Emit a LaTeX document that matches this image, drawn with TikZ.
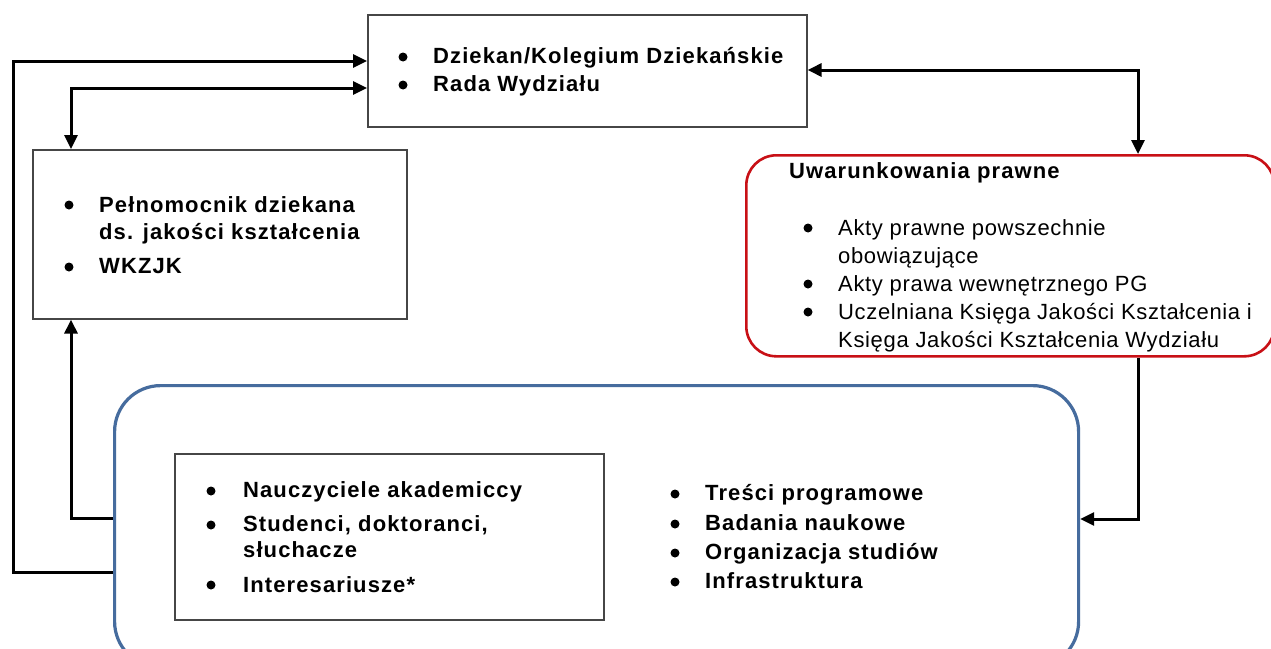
\documentclass[tikz,border=0pt]{standalone}
\usepackage{fontspec}
\setmainfont{Liberation Sans}[LetterSpace=5]
\newfontfamily\regfont{Liberation Sans}[LetterSpace=3]
\usetikzlibrary{arrows.meta}
\definecolor{redb}{RGB}{200,16,22}
\definecolor{blueb}{RGB}{70,108,158}
\definecolor{grayb}{RGB}{70,70,70}
\tikzset{
  x=1pt, y=-1pt,
  box/.style={draw=grayb, line width=1.6pt, rectangle, anchor=north west, inner sep=0pt},
  redbox/.style={draw=redb, line width=2.6pt, rectangle, rounded corners=30pt, anchor=north west, inner sep=0pt},
  bluebox/.style={draw=blueb, line width=3.2pt, rectangle, rounded corners=46pt, anchor=north west, inner sep=0pt},
  txt/.style={anchor=base west, inner sep=0pt, font=\fontsize{22}{26}\selectfont\bfseries},
  txtn/.style={anchor=base west, inner sep=0pt, font=\regfont\fontsize{22}{26}\selectfont},
  bul/.style={circle, fill=black, minimum size=9pt, inner sep=0pt},
  conn/.style={line width=3pt, -{Triangle[length=14pt,width=13pt]}},
  conn2/.style={line width=3pt, {Triangle[length=14pt,width=13pt]}-{Triangle[length=14pt,width=13pt]}},
}
\begin{document}
\begin{tikzpicture}
\useasboundingbox (0,0) rectangle (1271,648);
\clip (0,0) rectangle (1271,648);
\fill[white] (0,0) rectangle (1271,648);

% boxes
\node[box, minimum width=439pt, minimum height=112pt] (top) at (367,14) {};
\node[box, minimum width=374pt, minimum height=169pt] (left) at (32,149) {};
\node[redbox, minimum width=528pt, minimum height=201pt] (red) at (745,154) {};
\node[bluebox, minimum width=964pt, minimum height=282pt] (blue) at (113,384) {};
\node[box, minimum width=429pt, minimum height=166pt] (inner) at (174,453) {};

% top box text
\node[bul] (tb1) at (403,57) {};
\node[txt] (tt1) at (433,63) {Dziekan/Kolegium Dziekańskie};
\node[bul] (tb2) at (403,85) {};
\node[txt] (tt2) at (433,91) {Rada Wydziału};

% left box text
\node[bul] (lb1) at (69,205) {};
\node[txt] (lt1) at (99,212) {Pełnomocnik dziekana};
\node[txt] (lt2) at (99,239) {ds. jakości kształcenia};
\node[bul] (lb2) at (69,267) {};
\node[txt] (lt3) at (99,273) {WKZJK};

% red box text
\node[txt] (rh) at (789,178) {Uwarunkowania prawne};
\node[bul] (rb1) at (808,228) {};
\node[txtn] (rt1) at (838,235) {Akty prawne powszechnie};
\node[txtn] (rt2) at (838,263) {obowiązujące};
\node[bul] (rb2) at (808,284) {};
\node[txtn] (rt3) at (838,291) {Akty prawa wewnętrznego PG};
\node[bul] (rb3) at (808,312) {};
\node[txtn] (rt4) at (838,319) {Uczelniana Księga Jakości Kształcenia i};
\node[txtn] (rt5) at (838,347) {Księga Jakości Kształcenia Wydziału};

% inner box text
\node[bul] (ib1) at (211,491) {};
\node[txt] (it1) at (243,497) {Nauczyciele akademiccy};
\node[bul] (ib2) at (211,525) {};
\node[txt] (it2) at (243,531) {Studenci, doktoranci,};
\node[txt] (it3) at (243,557) {słuchacze};
\node[bul] (ib3) at (211,585) {};
\node[txt] (it4) at (243,592) {Interesariusze*};

% blue box right list
\node[bul] (bb1) at (675,494) {};
\node[txt] (bt1) at (705,500) {Treści programowe};
\node[bul] (bb2) at (675,524) {};
\node[txt] (bt2) at (705,530) {Badania naukowe};
\node[bul] (bb3) at (675,553) {};
\node[txt] (bt3) at (705,559) {Organizacja studiów};
\node[bul] (bb4) at (675,582) {};
\node[txt] (bt4) at (705,588) {Infrastruktura};

% connectors
\coordinate (c1) at (13,572);
\coordinate (c2) at (13,61);
\draw[conn] (blue.west |- c1) -- (c1) -- (c2) -- (top.west |- c2);
\coordinate (c3) at (71,88);
\draw[conn2] (left.north -| c3) -- (c3) -- (top.west |- c3);
\coordinate (c4) at (71,518);
\draw[conn] (blue.west |- c4) -- (c4) -- (left.south -| c4);
\coordinate (c5) at (1138,70);
\draw[conn2] (top.east |- c5) -- (c5) -- (red.north -| c5);
\coordinate (c6) at (1138,519);
\draw[conn] (red.south -| c6) -- (c6) -- (blue.east |- c6);
\end{tikzpicture}
\end{document}
